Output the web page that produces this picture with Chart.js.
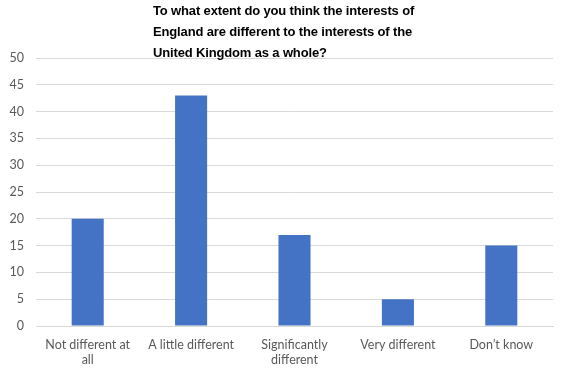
<!DOCTYPE html>
<html>
<head>
<meta charset="utf-8">
<script src="https://cdn.jsdelivr.net/npm/chart.js@4.4.0/dist/chart.umd.min.js"></script>
<style>
  html, body { margin: 0; padding: 0; background: #fff; }
  #wrap { position: relative; width: 563px; height: 379px; }
  #title {
    position: absolute; left: 153px; top: 0px;
    font: bold 13px "Liberation Sans", Arial, sans-serif;
    line-height: 21px; color: #000; letter-spacing: -0.15px;
    white-space: nowrap; pointer-events: none;
  }
</style>
</head>
<body>
<div id="wrap">
  <canvas id="chart" width="563" height="379"></canvas>
  <div id="title">To what extent do you think the interests of<br>England are different to the interests of the<br>United Kingdom as a whole?</div>
</div>
<script>
// categories (wrapped the way the labels appear) and answers
var categories = [
  ["Not different at", "all"],
  "A little different",
  ["Significantly", "different"],
  "Very different",
  "Don\u2019t know"
];
var responses = [20, 43, 17, 5, 15];
var yTicks = [0, 5, 10, 15, 20, 25, 30, 35, 40, 45, 50];

var font = { family: "Lato, 'Open Sans', sans-serif", size: 12.5 };

new Chart(document.getElementById("chart"), {
  type: 'bar',
  data: {
    labels: categories,
    datasets: [{
      data: responses,
      backgroundColor: '#4472C4',
      barPercentage: 0.31,
      categoryPercentage: 1
    }]
  },
  options: {
    responsive: false,
    animation: false,
    layout: { padding: { top: 58, right: 10, left: 0, bottom: 0 } },
    plugins: { legend: { display: false }, title: { display: false }, tooltip: { enabled: false } },
    scales: {
      x: {
        grid: { display: false, drawTicks: false },
        border: { color: '#d9d9d9' },
        ticks: { color: '#595959', font: font, padding: 11, maxRotation: 0, autoSkip: false },
        afterFit: function (s) { s.height = 53; }
      },
      y: {
        min: 0, max: 50,
        afterBuildTicks: function (s) { s.ticks = yTicks.map(function (v) { return { value: v }; }); },
        grid: { color: '#d9d9d9', drawTicks: false },
        border: { display: false },
        ticks: { color: '#595959', font: font, padding: 12 },
        afterFit: function (s) { s.width = 36; }
      }
    }
  }
});
</script>
</body>
</html>
